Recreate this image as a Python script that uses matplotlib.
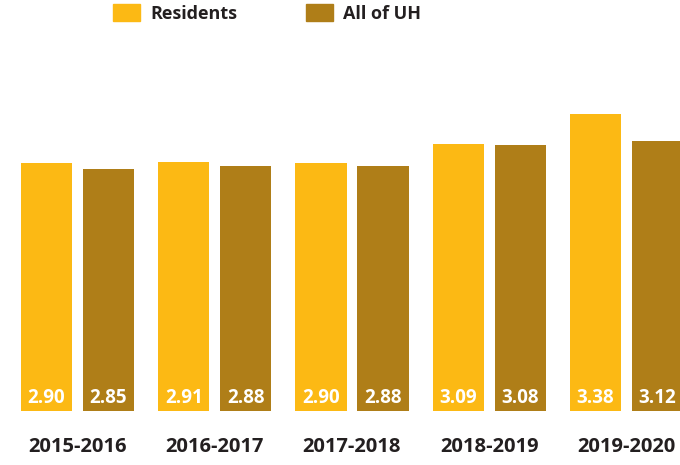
import numpy as np
import matplotlib
matplotlib.use("Agg")
import matplotlib.pyplot as plt
from matplotlib.patches import Patch

plt.rcParams['font.family'] = ['Open Sans', 'DejaVu Sans']

years = ["2015-2016", "2016-2017", "2017-2018", "2018-2019", "2019-2020"]
residents = [2.90, 2.91, 2.90, 3.09, 3.38]
all_uh = [2.85, 2.88, 2.88, 3.08, 3.12]
series_names = ["Residents", "All of UH"]

c_res = "#FCB914"
c_uh = "#AF7E18"
c_text = "#231F20"

fig = plt.figure(figsize=(6.8, 4.65), dpi=100)
ax = fig.add_axes([10 / 680, 54 / 465, 670 / 680, 381 / 465])

x = np.arange(len(years))
off = 0.226
w = 0.372
ymin = 0.49

b1 = ax.bar(x - off, residents, w, color=c_res, bottom=0)
b2 = ax.bar(x + off, all_uh, w, color=c_uh, bottom=0)

for bars, vals in ((b1, residents), (b2, all_uh)):
    for r, v in zip(bars, vals):
        ax.annotate(f"{v:.2f}", xy=(r.get_x() + r.get_width() / 2, ymin),
                    xytext=(0, 13), textcoords="offset pixels",
                    ha="center", va="center", color="white",
                    fontsize=13.5, fontweight="bold")

ax.set_xlim((10 - 77.5) / 137.25, (680 - 77.5) / 137.25)
ax.set_ylim(ymin, ymin + 381 / 102.7)
ax.set_xticks(x)
ax.set_xticklabels(years, fontsize=14.5, fontweight="bold", color=c_text)
ax.tick_params(axis="x", length=0, pad=19)
ax.set_yticks([])
for s in ax.spines.values():
    s.set_visible(False)

handles = [Patch(color=c_res), Patch(color=c_uh)]
fig.legend(handles, series_names, loc="upper left",
           bbox_to_anchor=(113 / 680, 1 - 4 / 465), ncol=2, frameon=False,
           borderpad=0, borderaxespad=0, handlelength=1.5, handleheight=1.05,
           handletextpad=0.55, columnspacing=3.8,
           prop={"size": 13, "weight": "bold"}, labelcolor=c_text)

fig.savefig("out.png", dpi=100)
